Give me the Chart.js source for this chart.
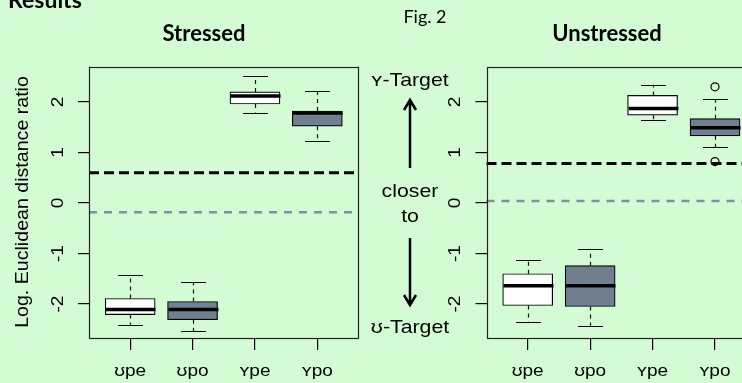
<!DOCTYPE html>
<html>
<head>
<meta charset="utf-8">
<script src="https://cdn.jsdelivr.net/npm/chart.js@4.4.1/dist/chart.umd.min.js"></script>
<style>
html, body { margin: 0; padding: 0; overflow: hidden; background: #d4fcd4; }
#wrap { position: relative; width: 742px; height: 383px; overflow: hidden; background: #d4fcd4; }
#wrap canvas { position: absolute; top: 0; }
</style>
</head>
<body>
<div id="wrap">
  <canvas id="stressed" width="742" height="383" style="left:0"></canvas>
  <canvas id="unstressed" width="400" height="383" style="left:370px"></canvas>
</div>
<script>
// categories and tick values
const categories = ['ʊpe', 'ʊpo', 'ʏpe', 'ʏpo'];
const yTicks = [-2, -1, 0, 1, 2];

// stressed panel (low whisker, Q1, median, Q3, high whisker)
const stressedLow    = [-2.41, -2.54, 1.79, 1.23];
const stressedQ1     = [-2.21, -2.31, 1.96, 1.52];
const stressedMedian = [-2.11, -2.11, 2.12, 1.78];
const stressedQ3     = [-1.89, -1.95, 2.20, 1.82];
const stressedHigh   = [-1.43, -1.57, 2.51, 2.21];
const stressedRef    = [0.60, -0.185];

// unstressed panel
const unstressedLow    = [-2.35, -2.43, 1.64, 1.11];
const unstressedQ1     = [-2.03, -2.05, 1.74, 1.33];
const unstressedMedian = [-1.64, -1.64, 1.87, 1.49];
const unstressedQ3     = [-1.40, -1.24, 2.13, 1.67];
const unstressedHigh   = [-1.13, -0.92, 2.34, 2.06];
const unstressedRef    = [0.78, 0.04];
const outlierCat   = [4, 4];
const outlierValue = [2.30, 0.82];

const ARIAL = '"Liberation Sans", Arial, sans-serif';
const STRETCH = 1.12;

function drawText(ctx, text, x, y, size, rot, align, base) {
    ctx.save();
    ctx.translate(x, y);
    if (rot) ctx.rotate(-Math.PI / 2);
    ctx.scale(STRETCH, 1);
    ctx.font = size + 'px ' + ARIAL;
    ctx.textAlign = align || 'center';
    ctx.textBaseline = base || 'alphabetic';
    ctx.fillText(text, 0, 0);
    ctx.restore();
}

function arrow(ctx, x, y1, y2) {
    const dir = y2 < y1 ? 1 : -1;
    ctx.beginPath();
    ctx.moveTo(x, y1);
    ctx.lineTo(x, y2);
    ctx.moveTo(x - 6, y2 + dir * 10);
    ctx.lineTo(x, y2);
    ctx.lineTo(x + 6, y2 + dir * 10);
    ctx.stroke();
}

const boxExtras = {
    id: 'boxExtras',
    beforeDatasetsDraw(chart, args, o) {
        const { ctx, chartArea: a, scales: { y } } = chart;
        ctx.save();
        o.ref.forEach((v, k) => {
            const py = y.getPixelForValue(v);
            ctx.strokeStyle = k == 0 ? '#000' : '#8090a0';
            ctx.lineWidth = k == 0 ? 3 : 2.5;
            ctx.setLineDash(k == 0 ? [10, 5] : [8, 7]);
            ctx.beginPath();
            ctx.moveTo(a.left, py);
            ctx.lineTo(a.right, py);
            ctx.stroke();
        });
        ctx.restore();
    },
    afterDatasetsDraw(chart, args, o) {
        const { ctx, chartArea: a, scales: { x, y } } = chart;
        ctx.save();
        o.median.forEach((m, i) => {
            const px = Math.round(x.getPixelForValue(i + 1)) + 0.5;
            const yl = y.getPixelForValue(o.low[i]);
            const y1 = y.getPixelForValue(o.q1[i]);
            const y3 = y.getPixelForValue(o.q3[i]);
            const yh = y.getPixelForValue(o.high[i]);
            ctx.strokeStyle = '#111';
            ctx.lineWidth = 1.2;
            ctx.setLineDash([4, 4]);
            ctx.beginPath();
            ctx.moveTo(px, y3); ctx.lineTo(px, yh);
            ctx.moveTo(px, y1); ctx.lineTo(px, yl);
            ctx.stroke();
            ctx.setLineDash([]);
            ctx.strokeStyle = '#000';
            ctx.lineWidth = 1.2;
            ctx.beginPath();
            ctx.moveTo(px - 12.5, Math.round(yh) + 0.5); ctx.lineTo(px + 12.5, Math.round(yh) + 0.5);
            ctx.moveTo(px - 12.5, Math.round(yl) + 0.5); ctx.lineTo(px + 12.5, Math.round(yl) + 0.5);
            ctx.stroke();
            const ym = y.getPixelForValue(m);
            ctx.lineWidth = 3.5;
            ctx.beginPath();
            ctx.moveTo(px - 25, ym); ctx.lineTo(px + 25, ym);
            ctx.stroke();
        });
        // frame
        ctx.strokeStyle = '#222';
        ctx.lineWidth = 1.2;
        ctx.strokeRect(Math.round(a.left) + 0.5, Math.round(a.top) + 0.5, Math.round(a.right - a.left) - 1, Math.round(a.bottom - a.top));
        // tick labels
        ctx.fillStyle = '#000';
        y.ticks.forEach(t => drawText(ctx, String(t.value), o.labelX, y.getPixelForValue(t.value), 17, true, 'center', 'middle'));
        x.ticks.forEach(t => drawText(ctx, categories[t.value - 1], x.getPixelForValue(t.value), 376, 17));
        if (o.decorate) o.decorate(ctx);
        ctx.restore();
    }
};

function decorateStressed(ctx) {
    ctx.fillStyle = '#000';
    ctx.textBaseline = 'alphabetic';
    ctx.font = 'bold 23px Lato, sans-serif';
    ctx.textAlign = 'left';
    ctx.fillText('Results', 8, 8);
    ctx.textAlign = 'center';
    ctx.font = 'bold 22px Lato, sans-serif';
    ctx.fillText('Stressed', 204, 41);
    ctx.fillText('Unstressed', 607, 41);
    ctx.font = '18px Lato, sans-serif';
    ctx.fillText('Fig. 2', 425, 23);

    drawText(ctx, 'Log. Euclidean distance ratio', 28, 202, 17.5, true);
    drawText(ctx, 'ʏ-Target', 410, 86, 19);
    drawText(ctx, 'closer', 410, 197, 19);
    drawText(ctx, 'to', 410, 222, 19);
    drawText(ctx, 'ʊ-Target', 410, 333, 19);

    ctx.strokeStyle = '#000';
    ctx.lineWidth = 2.5;
    arrow(ctx, 410, 168, 100);
    arrow(ctx, 410, 238, 305);
}

function createBoxChart(id, low, q1, med, q3, high, ref, pad, labelX, decorate, outliers) {
    const datasets = [{
        type: 'bar',
        data: categories.map((c, i) => ({ x: i + 1, y: [q1[i], q3[i]] })),
        backgroundColor: ['#ffffff', '#708090', '#ffffff', '#708090'],
        borderColor: '#000',
        borderWidth: 1.2,
        borderSkipped: false,
        barThickness: 50
    }];
    if (outliers) {
        datasets.push({
            type: 'scatter',
            data: outliers,
            pointRadius: 4,
            pointBorderColor: '#000',
            pointBackgroundColor: 'rgba(0,0,0,0)',
            pointBorderWidth: 1.2
        });
    }
    const ctx = document.getElementById(id).getContext('2d');
    new Chart(ctx, {
        type: 'bar',
        data: { datasets: datasets },
        plugins: [boxExtras],
        options: {
            responsive: false,
            animation: false,
            devicePixelRatio: 1,
            layout: { padding: pad },
            plugins: {
                legend: { display: false },
                tooltip: { enabled: false },
                boxExtras: { low: low, q1: q1, median: med, q3: q3, high: high, ref: ref, labelX: labelX, decorate: decorate }
            },
            scales: {
                x: {
                    type: 'linear',
                    min: 0.34,
                    max: 4.66,
                    offset: false,
                    afterBuildTicks: s => { s.ticks = categories.map((c, i) => ({ value: i + 1 })); },
                    afterFit: s => { s.height = 45; },
                    ticks: { display: false },
                    grid: { offset: false, drawOnChartArea: false, drawTicks: true, tickLength: 12, color: '#000', lineWidth: 1.2 },
                    border: { display: false }
                },
                y: {
                    min: -2.673,
                    max: 2.693,
                    afterBuildTicks: s => { s.ticks = yTicks.map(v => ({ value: v })); },
                    afterFit: s => { s.width = 11; },
                    ticks: { display: false },
                    grid: { drawOnChartArea: false, drawTicks: true, tickLength: 11, color: '#000', lineWidth: 1.2 },
                    border: { display: false }
                }
            }
        }
    });
}

createBoxChart('stressed', stressedLow, stressedQ1, stressedMedian, stressedQ3, stressedHigh, stressedRef,
    { left: 78, right: 383.5, top: 67, bottom: 0 }, 58, decorateStressed);

createBoxChart('unstressed', unstressedLow, unstressedQ1, unstressedMedian, unstressedQ3, unstressedHigh, unstressedRef,
    { left: 105.5, right: 13.8, top: 67, bottom: 0 }, 85, null,
    outlierCat.map((c, i) => ({ x: c, y: outlierValue[i] })));
</script>
</body>
</html>
